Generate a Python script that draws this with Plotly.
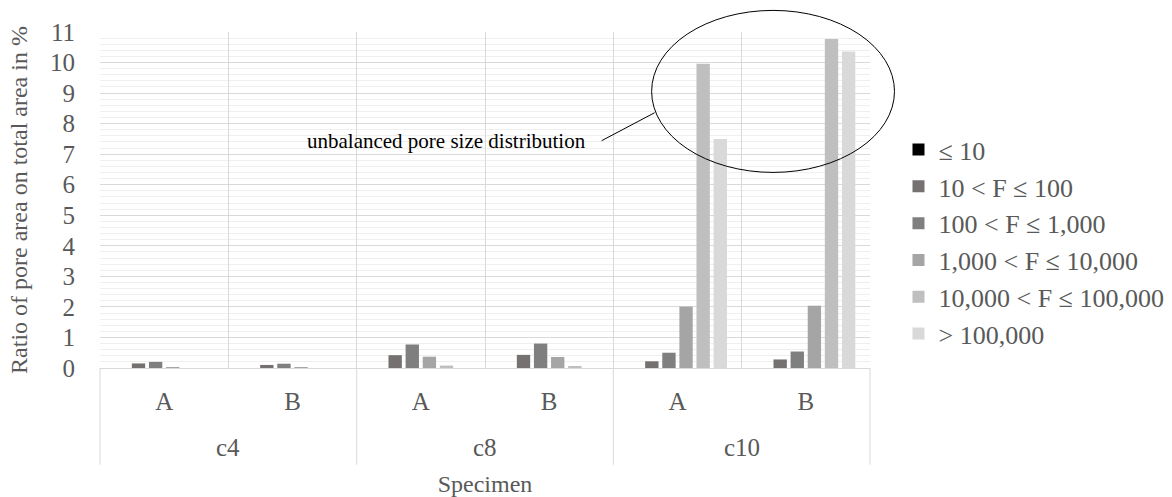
import plotly.graph_objects as go

groups = ["c4", "c4", "c8", "c8", "c10", "c10"]
specimens = ["A", "B", "A", "B", "A", "B"]
group_names = ["c4", "c8", "c10"]

series_names = ["≤ 10", "10 < F ≤ 100", "100 < F ≤ 1,000",
                "1,000 < F ≤ 10,000", "10,000 < F ≤ 100,000", "> 100,000"]
s_le10 = [0.0, 0.0, 0.0, 0.0, 0.0, 0.0]
s_10_100 = [0.15, 0.10, 0.42, 0.43, 0.22, 0.28]
s_100_1k = [0.20, 0.14, 0.77, 0.80, 0.50, 0.54]
s_1k_10k = [0.02, 0.01, 0.37, 0.36, 2.01, 2.04]
s_10k_100k = [0.0, 0.0, 0.08, 0.06, 9.96, 10.77]
s_gt100k = [0.0, 0.0, 0.0, 0.0, 7.50, 10.36]
series_values = [s_le10, s_10_100, s_100_1k, s_1k_10k, s_10k_100k, s_gt100k]
colors = ["#000000", "#767171", "#7f7f7f", "#a5a5a5", "#bfbfbf", "#d9d9d9"]

y_ticks = list(range(0, 12))

FONT = "Liberation Serif"
TXT = "#595959"
GRID = "#d9d9d9"

cats = [f"{g} {s}" for g, s in zip(groups, specimens)]

fig = go.Figure()
for i, (name, vals) in enumerate(zip(series_names, series_values)):
    fig.add_trace(go.Bar(
        x=cats, y=vals, name=name,
        marker=dict(color=colors[i], line=dict(width=0)),
    ))

fig.update_layout(
    width=1172, height=497,
    margin=dict(l=100, r=302, t=32, b=129, autoexpand=False),
    paper_bgcolor="white", plot_bgcolor="white",
    font=dict(family=FONT, color=TXT, size=24),
    barmode="group", bargap=0.2, bargroupgap=0.22,
    showlegend=True,
    legend=dict(x=1.037, xanchor="left", y=0.376, yanchor="middle",
                font=dict(size=26, family=FONT, color=TXT),
                bgcolor="rgba(0,0,0,0)"),
)

fig.update_yaxes(
    range=[0, 11], tickmode="array", tickvals=y_ticks,
    ticktext=[str(v) for v in y_ticks],
    showgrid=True, gridcolor=GRID, gridwidth=1,
    minor=dict(dtick=0.2, showgrid=True, gridcolor="#efefef", gridwidth=1),
    zeroline=False, showline=False, ticks="", automargin=False,
    tickfont=dict(size=25, family=FONT, color=TXT),
    ticklabelstandoff=24,
    title=dict(text="Ratio of pore area on total area in %",
               font=dict(size=24, family=FONT, color=TXT), standoff=15),
)

fig.update_xaxes(
    type="category", categoryorder="array", categoryarray=cats,
    tickmode="array", tickvals=cats, ticktext=specimens,
    tickson="boundaries", automargin=False,
    showgrid=True, gridcolor=GRID, gridwidth=1,
    showline=True, linecolor=GRID, linewidth=1,
    ticks="", tickfont=dict(size=25, family=FONT, color=TXT),
    ticklabelstandoff=11,
    title=dict(text="Specimen", font=dict(size=24, family=FONT, color=TXT), standoff=62),
)

# Group dividers and group labels below the category labels
n_groups = len(group_names)
for k in range(n_groups + 1):
    fig.add_shape(type="line", xref="paper", yref="paper",
                  x0=k / n_groups, x1=k / n_groups, y0=0, y1=-0.288,
                  line=dict(color=GRID, width=1))
for k, g in enumerate(group_names):
    fig.add_annotation(xref="paper", yref="paper", x=(k + 0.5) / n_groups, y=-0.237,
                       text=g, showarrow=False, xanchor="center", yanchor="middle",
                       font=dict(size=25, family=FONT, color=TXT))

# Callout ellipse, leader line and text
fig.add_shape(type="circle", xref="paper", yref="paper",
              x0=0.7164, x1=1.0318, y0=0.5821, y1=1.0643,
              line=dict(color="#000000", width=1))
fig.add_shape(type="line", xref="paper", yref="paper",
              x0=0.6515, y0=0.6765, x1=0.7203, y1=0.7598,
              line=dict(color="#000000", width=1))
fig.add_annotation(xref="paper", yref="paper", x=0.4504, y=0.6765,
                   text="unbalanced pore size distribution", showarrow=False,
                   xanchor="center", yanchor="middle",
                   font=dict(size=21, family=FONT, color="#000000"))

fig.write_html("out.html", config={"displayModeBar": False},
               post_script="document.body.style.margin='0';")
